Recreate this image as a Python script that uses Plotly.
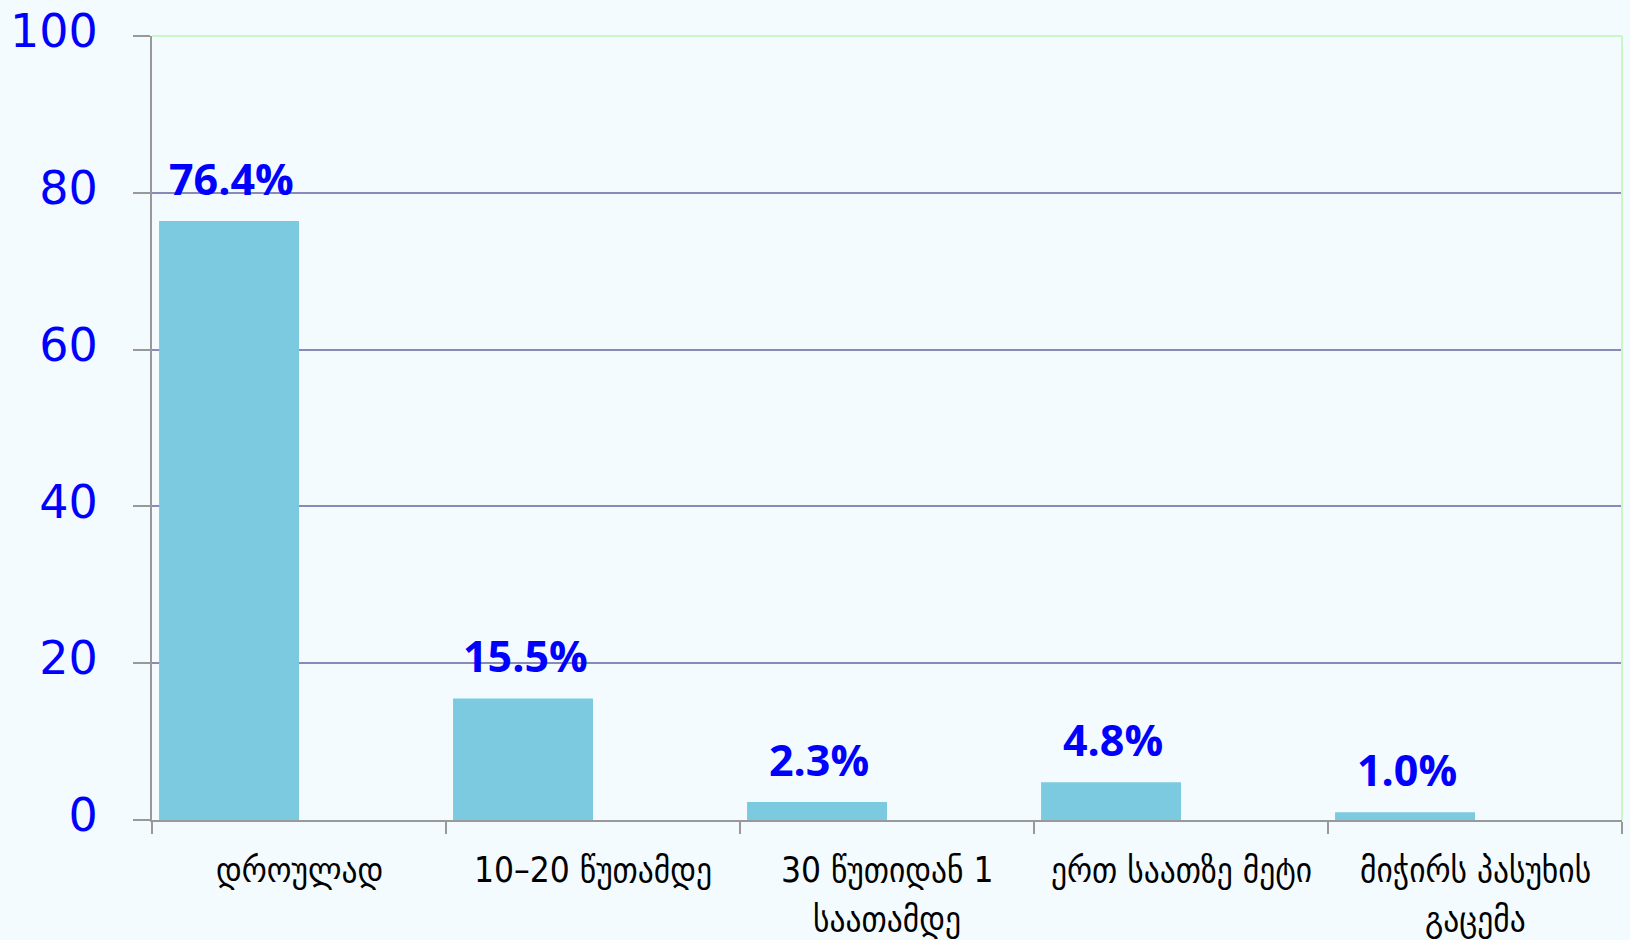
import plotly.graph_objects as go

categories = ["დროულად", "10–20 წუთამდე", "30 წუთიდან 1<br>საათამდე", "ერთ საათზე მეტი", "მიჭირს პასუხის<br>გაცემა"]
values = [76.4, 15.5, 2.3, 4.8, 1.0]
y_ticks = [0, 20, 40, 60, 80, 100]

BAR_W = 0.476

fig = go.Figure()
fig.add_trace(go.Bar(
    x=categories, y=values,
    marker=dict(color="#7ccadf", line=dict(width=0)),
    width=BAR_W, offset=-BAR_W,
    hoverinfo="skip",
))

annotations = []
# value labels above bars
for cat, v in zip(categories, values):
    annotations.append(dict(
        x=cat, xref="x", y=v, yref="y",
        text=f"{v:.1f}%", showarrow=False,
        xanchor="center", yanchor="bottom",
        xshift=-68, yshift=11,
        font=dict(family="Open Sans", size=43, color="#0000ff", weight="bold"),
    ))
# category labels, one annotation per text line for wider line spacing
for cat in categories:
    for i, line in enumerate(cat.split("<br>")):
        annotations.append(dict(
            x=cat, xref="x", y=0, yref="paper",
            text=line, showarrow=False,
            yanchor="middle", xanchor="center",
            yshift=-50 - 49 * i,
            font=dict(family="DejaVu Sans Condensed, DejaVu Sans", size=35, color="#000000"),
        ))

fig.update_layout(
    width=1630, height=940,
    margin=dict(l=152, r=8, t=36, b=120, autoexpand=False),
    paper_bgcolor="#f3fbfe", plot_bgcolor="#f3fbfe",
    showlegend=False,
    xaxis=dict(
        type="category", automargin=False,
        showline=True, linecolor="#999999", linewidth=2,
        ticks="outside", tickson="boundaries", ticklen=12, tickcolor="#999999", tickwidth=2,
        showticklabels=False,
        showgrid=False,
    ),
    yaxis=dict(
        range=[0, 100], tickvals=y_ticks, automargin=False,
        showline=True, linecolor="#999999", linewidth=2,
        ticks="outside", ticklen=17, tickcolor="#999999", tickwidth=2,
        ticklabelstandoff=26, ticklabelshift=-5,
        tickfont=dict(family="DejaVu Sans", size=46, color="#0000ff"),
        showgrid=True, gridcolor="#8a8ab8", gridwidth=1.5,
        zeroline=False,
    ),
    annotations=annotations,
    shapes=[
        dict(type="line", xref="paper", yref="paper", x0=0, x1=1, y0=1, y1=1,
             line=dict(color="#c8f8c8", width=2)),
        dict(type="line", xref="paper", yref="paper", x0=1, x1=1, y0=0, y1=1,
             line=dict(color="#c8f8c8", width=2)),
    ],
)

fig.write_html(
    "out.html",
    config={"displayModeBar": False},
    post_script="document.body.style.margin='0';document.body.style.background='#f3fbfe';",
)
